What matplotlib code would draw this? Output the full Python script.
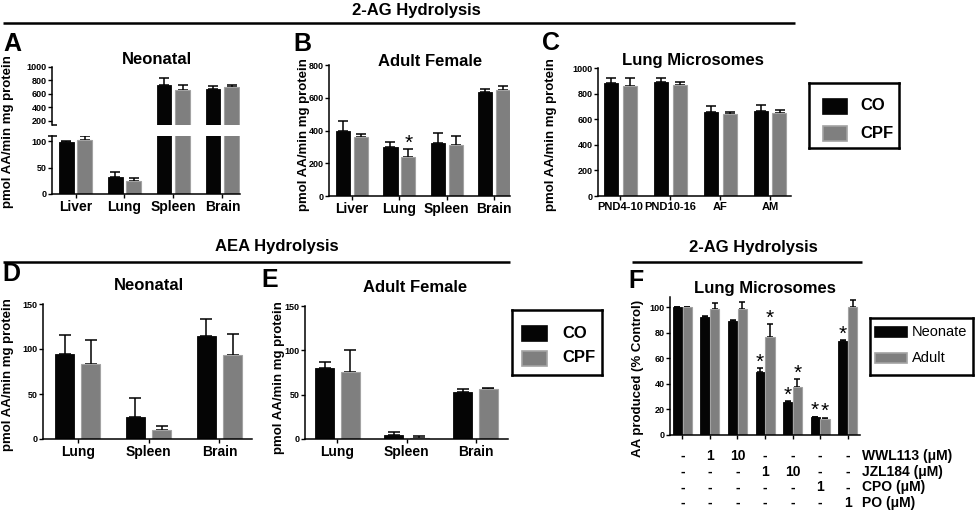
import matplotlib
matplotlib.use("Agg")
import matplotlib.pyplot as plt
import numpy as np
from matplotlib.lines import Line2D
from matplotlib.patches import Rectangle
from matplotlib.transforms import blended_transform_factory

plt.rcParams["font.family"] = ["Liberation Sans", "DejaVu Sans"]
plt.rcParams["font.weight"] = "bold"

W, H = 975, 518

SERIES = ["CO", "CPF"]
F_SERIES = ["Neonate", "Adult"]
YLABEL = "pmol AA/min mg protein"

# A: 2-AG hydrolysis, neonatal tissues
A_TISSUES = ["Liver", "Lung", "Spleen", "Brain"]
A_CO = [98, 33, 738, 672]
A_CO_ERR = [2, 9, 92, 51]
A_CPF = [103, 24, 660, 697]
A_CPF_ERR = [7, 6, 70, 33]

# B: 2-AG hydrolysis, adult female tissues
B_TISSUES = ["Liver", "Lung", "Spleen", "Brain"]
B_CO = [400, 301, 326, 635]
B_CO_ERR = [58, 27, 57, 20]
B_CPF = [362, 236, 312, 648]
B_CPF_ERR = [15, 49, 54, 24]
B_SIG_CPF = [False, True, False, False]

# C: 2-AG hydrolysis, lung microsomes by age
C_GROUPS = ["PND4-10", "PND10-16", "AF", "AM"]
C_CO = [880, 888, 658, 664]
C_CO_ERR = [40, 32, 42, 47]
C_CPF = [862, 866, 643, 652]
C_CPF_ERR = [57, 22, 17, 18]

# D: AEA hydrolysis, neonatal
D_TISSUES = ["Lung", "Spleen", "Brain"]
D_CO = [94, 24, 114]
D_CO_ERR = [22, 22, 19]
D_CPF = [83, 10, 93]
D_CPF_ERR = [27, 5, 24]

# E: AEA hydrolysis, adult female
E_TISSUES = ["Lung", "Spleen", "Brain"]
E_CO = [80, 4.5, 53]
E_CO_ERR = [6.5, 3.8, 3]
E_CPF = [76, 1.5, 56]
E_CPF_ERR = [24, 1.5, 2]

# F: inhibitor sensitivity, lung microsomes
F_NEONATE = [100, 92, 89.5, 49.5, 26, 14, 73.5]
F_NEONATE_ERR = [0, 1, 0.5, 2.6, 0.3, 0.4, 0.5]
F_ADULT = [100, 98.4, 98.7, 76.5, 37.3, 12.8, 100.5]
F_ADULT_ERR = [0, 5.2, 5.3, 10.2, 6.3, 0.8, 5.5]
F_SIG_NEONATE = [False, False, False, True, True, True, True]
F_SIG_ADULT = [False, False, False, True, True, True, False]
F_ROWS = ["WWL113 (μM)", "JZL184 (μM)", "CPO (μM)", "PO (μM)"]
F_DOSES = [
    ["-", "1", "10", "-", "-", "-", "-"],
    ["-", "-", "-", "1", "10", "-", "-"],
    ["-", "-", "-", "-", "-", "1", "-"],
    ["-", "-", "-", "-", "-", "-", "1"],
]

BLACK = "#050505"
GRAY = "#7f7f7f"
GRAY_EDGE = "#a3a3a3"

fig = plt.figure(figsize=(W / 100, H / 100), dpi=100)


def px_axes(left, top, right, bottom):
    return fig.add_axes([left / W, 1 - bottom / H, (right - left) / W, (bottom - top) / H])


def ftext(x, y, s, **kw):
    kw.setdefault("ha", "center")
    kw.setdefault("va", "center")
    return fig.text(x / W, 1 - y / H, s, **kw)


def fline(x0, y0, x1, y1, lw=1.8):
    fig.add_artist(Line2D([x0 / W, x1 / W], [1 - y0 / H, 1 - y1 / H],
                          transform=fig.transFigure, color="black", lw=lw,
                          solid_capstyle="butt"))


def style(ax, bottom=True):
    ax.spines[["top", "right"]].set_visible(False)
    ax.spines["left"].set_linewidth(1.1)
    ax.spines["bottom"].set_linewidth(1.1)
    if not bottom:
        ax.spines["bottom"].set_visible(False)
        ax.tick_params(axis="x", bottom=False, labelbottom=False)
    ax.tick_params(axis="both", direction="out", length=3, width=1.0, pad=1)
    ax.tick_params(axis="y", labelsize=6.5)
    ax.set_facecolor("none")


def pair_bars(ax, s1, e1, s2, e2, width, off, c1=BLACK, c2=GRAY, e2c=GRAY_EDGE, capsize=3.5):
    x = np.arange(len(s1))
    ax.bar(x - off, s1, width, color=c1, edgecolor=c1, lw=0.6, zorder=2)
    ax.bar(x + off, s2, width, color=c2, edgecolor=e2c, lw=0.8, zorder=2)
    for xs, vals, errs in ((x - off, s1, e1), (x + off, s2, e2)):
        ax.errorbar(xs, vals, yerr=[np.zeros(len(vals)), errs], fmt="none",
                    ecolor="black", elinewidth=1.1, capsize=capsize, capthick=1.1, zorder=1)
    return x


def stars(ax, xs, tops, flags):
    for xv, top, flag in zip(xs, tops, flags):
        if flag:
            ax.annotate("*", (xv, top), xytext=(0, 0.5), textcoords="offset points",
                        ha="center", va="baseline", fontsize=15, fontweight="normal",
                        annotation_clip=False)


def legend_box(left, top, names, colors, edges, fontsize, weight, rect_w, text_dx, rows_y):
    right = left + 90 if len(rect_w) == 0 else None


def legend(left, top, right, bottom, names, rect, rows_y, text_x, fontsize, weight):
    lax = px_axes(left, top, right, bottom)
    lax.set_xlim(left, right)
    lax.set_ylim(bottom, top)
    lax.set_xticks([])
    lax.set_yticks([])
    for sp in lax.spines.values():
        sp.set_linewidth(1.8)
    faces = [BLACK, GRAY]
    edges = [BLACK, GRAY_EDGE]
    for name, yc, fc, ec in zip(names, rows_y, faces, edges):
        lax.add_patch(Rectangle((rect[0], yc - rect[2] / 2), rect[1] - rect[0], rect[2],
                                facecolor=fc, edgecolor=ec, lw=1.2))
        lax.text(text_x, yc, name, ha="left", va="center", fontsize=fontsize, fontweight=weight)


# ---------- section headers ----------
ftext(416, 11, "2-AG Hydrolysis", fontsize=12)
fline(3, 23, 795, 23)
ftext(277, 247, "AEA Hydrolysis", fontsize=12)
fline(3, 262, 510, 262)
ftext(753, 248, "2-AG Hydrolysis", fontsize=12)
fline(632, 262, 862, 262)

# ---------- A (broken axis) ----------
ax_up = px_axes(52, 67, 240, 125)
ax_lo = px_axes(52, 136, 240, 194)
for ax in (ax_up, ax_lo):
    pair_bars(ax, A_CO, A_CO_ERR, A_CPF, A_CPF_ERR, 0.30, 0.19)
    ax.set_xlim(-0.48, 3.36)
ax_up.set_ylim(140, 1000)
ax_up.set_yticks([200, 400, 600, 800, 1000])
ax_lo.set_ylim(0, 110)
ax_lo.set_yticks([0, 50, 100])
style(ax_up, bottom=False)
style(ax_lo)
ax_lo.set_xticks(np.arange(len(A_TISSUES)), A_TISSUES, fontsize=10)
fline(52, 125, 57, 125, lw=1.1)
fline(48, 136, 57, 136, lw=1.1)
ftext(157, 60, "Neonatal", fontsize=12)
ftext(12, 44, "A", fontsize=18)
ftext(8, 132, YLABEL, rotation=90, fontsize=9.5)

# ---------- B ----------
ax_b = px_axes(329, 65, 510, 196)
xb = pair_bars(ax_b, B_CO, B_CO_ERR, B_CPF, B_CPF_ERR, 0.30, 0.19)
ax_b.set_xlim(-0.49, 3.34)
ax_b.set_ylim(0, 800)
ax_b.set_yticks([0, 200, 400, 600, 800])
style(ax_b)
ax_b.set_xticks(xb, B_TISSUES, fontsize=10)
stars(ax_b, xb + 0.19, np.add(B_CPF, B_CPF_ERR), B_SIG_CPF)
ftext(430, 61, "Adult Female", fontsize=12)
ftext(302, 44, "B", fontsize=18)
ftext(304, 135, YLABEL, rotation=90, fontsize=9.5)

# ---------- C ----------
ax_c = px_axes(598, 68, 791, 196)
xc = pair_bars(ax_c, C_CO, C_CO_ERR, C_CPF, C_CPF_ERR, 0.28, 0.19)
ax_c.set_xlim(-0.44, 3.42)
ax_c.set_ylim(0, 1000)
ax_c.set_yticks([0, 200, 400, 600, 800, 1000])
style(ax_c)
ax_c.set_xticks(xc, C_GROUPS, fontsize=8)
ftext(693, 61, "Lung Microsomes", fontsize=12)
ftext(551, 43, "C", fontsize=18)
ftext(551, 135, YLABEL, rotation=90, fontsize=9.5)
legend(809, 83, 899, 148, SERIES, (823, 847, 15), (106, 133), 860, 12, "bold")

# ---------- D ----------
ax_d = px_axes(43, 304, 252, 439)
xd = pair_bars(ax_d, D_CO, D_CO_ERR, D_CPF, D_CPF_ERR, 0.27, 0.185, capsize=4.3)
ax_d.set_xlim(-0.49, 2.46)
ax_d.set_ylim(0, 150)
ax_d.set_yticks([0, 50, 100, 150])
style(ax_d)
ax_d.set_xticks(xd, D_TISSUES, fontsize=10)
ftext(149, 285, "Neonatal", fontsize=12)
ftext(11, 274, "D", fontsize=18)
ftext(8, 375, YLABEL, rotation=90, fontsize=9.5)

# ---------- E ----------
ax_e = px_axes(305, 306, 508, 439)
xe = pair_bars(ax_e, E_CO, E_CO_ERR, E_CPF, E_CPF_ERR, 0.27, 0.185, capsize=4.3)
ax_e.set_xlim(-0.47, 2.47)
ax_e.set_ylim(0, 150)
ax_e.set_yticks([0, 50, 100, 150])
style(ax_e)
ax_e.set_xticks(xe, E_TISSUES, fontsize=10)
ftext(415, 287, "Adult Female", fontsize=12)
ftext(270, 280, "E", fontsize=18)
ftext(279, 378, YLABEL, rotation=90, fontsize=9.5)
legend(512, 310, 602, 375, SERIES, (522, 547, 15), (333, 358), 562, 12, "bold")

# ---------- F ----------
ax_f = px_axes(670, 297, 860, 435)
xf = pair_bars(ax_f, F_NEONATE, F_NEONATE_ERR, F_ADULT, F_ADULT_ERR, 0.33, 0.18, capsize=2.4)
ax_f.set_xlim(-0.45, 6.45)
ax_f.set_ylim(0, 108)
ax_f.set_yticks([0, 20, 40, 60, 80, 100])
style(ax_f)
ax_f.set_xticks(xf, [""] * len(xf))
stars(ax_f, xf - 0.18, np.add(F_NEONATE, F_NEONATE_ERR), F_SIG_NEONATE)
stars(ax_f, xf + 0.18, np.add(F_ADULT, F_ADULT_ERR), F_SIG_ADULT)
ftext(765, 289, "Lung Microsomes", fontsize=12)
ftext(636, 281, "F", fontsize=18)
ftext(638, 378, "AA produced (% Control)", rotation=90, fontsize=9.5)
tf = blended_transform_factory(ax_f.transData, fig.transFigure)
for row, (name, doses) in enumerate(zip(F_ROWS, F_DOSES)):
    yrow = 1 - (456 + row * 15.7) / H
    for xv, d in zip(xf, doses):
        ax_f.text(xv, yrow, d, transform=tf, ha="center", va="center", fontsize=10)
    fig.text(862 / W, yrow, name, ha="left", va="center", fontsize=10)
legend(870, 318, 973, 375, F_SERIES, (875, 907, 10), (332, 358), 912, 10.5, "normal")

fig.savefig("out.png", dpi=100, facecolor="white")
